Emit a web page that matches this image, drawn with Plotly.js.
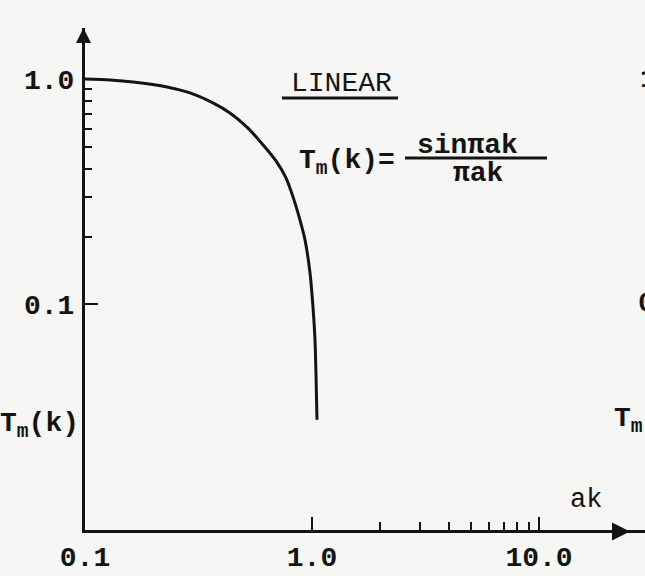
<!DOCTYPE html>
<html>
<head>
<meta charset="utf-8">
<script src="https://cdn.plot.ly/plotly-3.0.1.min.js"></script>
<style>
  html, body { margin: 0; padding: 0; background: #f6f6f4; }
  #chart { width: 645px; height: 576px; }
</style>
</head>
<body>
<div id="chart"></div>
<script>
// Transfer function of the linear element, T_m(k) = sin(pi ak) / (pi ak), on log-log axes
const akValues = [0.1, 0.129, 0.163, 0.230, 0.290, 0.366, 0.435, 0.517, 0.604, 0.694,
                  0.768, 0.833, 0.885, 0.932, 0.980, 1.010, 1.031, 1.041, 1.052];
const tmValues = [1.0, 0.990, 0.970, 0.922, 0.867, 0.783, 0.707, 0.612, 0.515, 0.433,
                  0.364, 0.291, 0.237, 0.193, 0.138, 0.0975, 0.0696, 0.0497, 0.0308];

// axis ticks
const xTickVals = [0.1, 1, 10];
const xTickText = ['0.1', '1.0', '10.0'];
const xMinorVals = [2, 3, 4, 5, 6, 7, 8, 9];
const yTickVals = [1, 0.1];
const yTickText = ['1.0', '0.1'];
const yMinorVals = [0.9, 0.8, 0.7, 0.6, 0.5, 0.4, 0.3, 0.2];

const W = 645, H = 576;
const M = { l: 85, r: 0, t: 28, b: 46 };
const ink = '#141414';
const mono = 'Liberation Mono, Courier New, monospace';

// pixel position on the page -> paper fraction of the plotting area
function px(x) { return (x - M.l) / (W - M.l - M.r); }
function py(y) { return (H - M.b - y) / (H - M.t - M.b); }

function label(text, x, y, opts) {
  return Object.assign({
    xref: 'paper', yref: 'paper', x: px(x), y: py(y),
    text: text, showarrow: false, xanchor: 'center', yanchor: 'middle',
    font: { family: mono, size: 28, color: ink, weight: 'bold' }
  }, opts || {});
}

const trace = {
  x: akValues, y: tmValues, type: 'scatter', mode: 'lines',
  line: { color: ink, width: 3, shape: 'spline', smoothing: 0.7 },
  hoverinfo: 'skip'
};

const tickFont = { family: mono, size: 28, color: ink, weight: 'bold' };

const layout = {
  width: W, height: H,
  margin: M,
  paper_bgcolor: '#f6f6f4', plot_bgcolor: 'rgba(0,0,0,0)',
  showlegend: false,
  xaxis: {
    type: 'log', range: [-1, 1.467], autorange: false,
    showline: true, linewidth: 3, linecolor: ink, mirror: false,
    showgrid: false, zeroline: false,
    tickmode: 'array', tickvals: xTickVals, ticktext: xTickText,
    ticks: 'inside', ticklen: 13, tickwidth: 2, tickcolor: ink,
    tickfont: tickFont, ticklabelstandoff: -1,
    minor: { tickmode: 'array', tickvals: xMinorVals, ticks: 'inside', ticklen: 8, tickwidth: 2, tickcolor: ink, showgrid: false },
    automargin: false, fixedrange: true
  },
  yaxis: {
    type: 'log', range: [-2, 0.226], autorange: false,
    showline: true, linewidth: 3, linecolor: ink, mirror: false,
    showgrid: false, zeroline: false,
    tickmode: 'array', tickvals: yTickVals, ticktext: yTickText,
    ticks: 'inside', ticklen: 13, tickwidth: 2, tickcolor: ink,
    tickfont: tickFont, ticklabelstandoff: 2,
    minor: { tickmode: 'array', tickvals: yMinorVals, ticks: 'inside', ticklen: 7, tickwidth: 2, tickcolor: ink, showgrid: false },
    automargin: false, fixedrange: true
  },
  shapes: [
    // underline of the heading
    { type: 'line', xref: 'paper', yref: 'paper', x0: px(282), x1: px(398), y0: py(98), y1: py(98),
      line: { color: ink, width: 3 } },
    // fraction bar
    { type: 'line', xref: 'paper', yref: 'paper', x0: px(405), x1: px(547), y0: py(158), y1: py(158),
      line: { color: ink, width: 3 } }
  ],
  annotations: [
    // axis arrowheads
    { xref: 'paper', yref: 'paper', x: 0, y: 1, ax: 0, ay: 24, text: '', showarrow: true,
      arrowhead: 2, arrowsize: 1.2, arrowwidth: 2.5, arrowcolor: ink, xshift: -1.5 },
    { xref: 'paper', yref: 'paper', x: px(630), y: 0, ax: -30, ay: 0, text: '', showarrow: true,
      arrowhead: 2, arrowsize: 1.2, arrowwidth: 3, arrowcolor: ink, yshift: -1.5 },
    label('LINEAR', 341, 83, { font: { family: mono, size: 28, color: ink } }),
    label('T<sub>m</sub>(k)=', 397, 162, { xanchor: 'right' }),
    label('sinπak', 467, 145),
    label('πak', 478, 174),
    label('ak', 586, 500, { font: { family: mono, size: 27, color: ink } }),
    label('T<sub>m</sub>(k)', 81, 425, { xanchor: 'right' }),
    // neighbouring panel, cut by the right edge
    label('1.0', 638, 79, { xanchor: 'left' }),
    label('0.1', 636, 303, { xanchor: 'left' }),
    label('T<sub>m</sub>(k)', 612, 420, { xanchor: 'left' })
  ]
};

Plotly.newPlot('chart', [trace], layout, { staticPlot: true, displayModeBar: false });
</script>
</body>
</html>
